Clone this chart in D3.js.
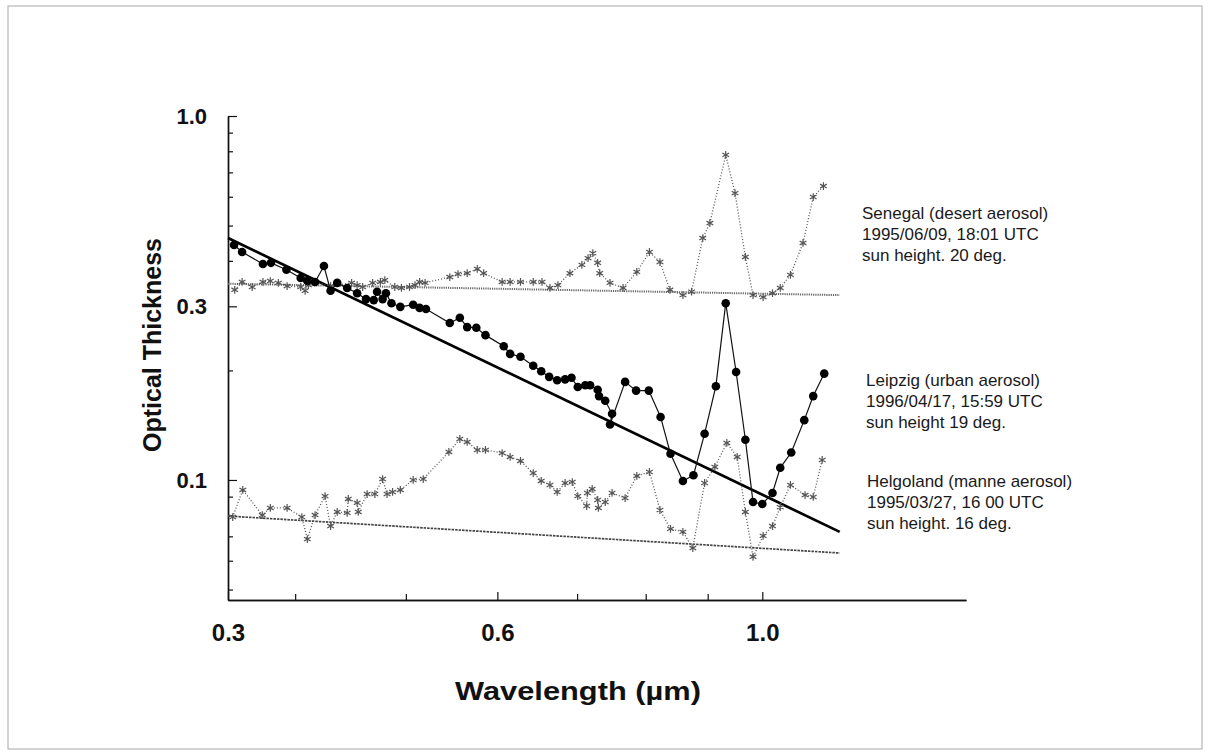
<!DOCTYPE html>
<html>
<head>
<meta charset="utf-8">
<script src="https://cdn.jsdelivr.net/npm/d3@7"></script>
<style>
  body { margin: 0; background: #fff; }
  svg { font-family: Arial, "Liberation Sans", sans-serif; }
</style>
</head>
<body>
<svg id="chart" width="1209" height="756"></svg>
<script>

/////// Data ///////

// Senegal, desert aerosol
var senegalWl  = [0.310, 0.321, 0.336, 0.352, 0.363, 0.375, 0.388, 0.405, 0.409, 0.412, 0.418, 0.432, 0.451, 0.456, 0.461, 0.470, 0.477, 0.481, 0.490, 0.496, 0.504, 0.510, 0.515, 0.521, 0.548, 0.557, 0.567, 0.578, 0.585, 0.606, 0.616, 0.629, 0.645, 0.656, 0.666, 0.676, 0.691, 0.707, 0.716, 0.723, 0.730, 0.733, 0.748, 0.767, 0.787, 0.806, 0.823, 0.839, 0.860, 0.874, 0.892, 0.904, 0.933, 0.950, 0.969, 0.983, 1.002, 1.025, 1.044, 1.069, 1.100, 1.125, 1.150];
var senegalTau = [0.333, 0.350, 0.339, 0.350, 0.352, 0.348, 0.341, 0.339, 0.331, 0.343, 0.350, 0.341, 0.348, 0.343, 0.339, 0.348, 0.350, 0.354, 0.339, 0.337, 0.339, 0.343, 0.350, 0.348, 0.361, 0.368, 0.370, 0.380, 0.370, 0.350, 0.350, 0.350, 0.350, 0.350, 0.337, 0.343, 0.370, 0.390, 0.407, 0.420, 0.395, 0.370, 0.348, 0.337, 0.373, 0.423, 0.397, 0.333, 0.322, 0.329, 0.462, 0.508, 0.782, 0.614, 0.410, 0.322, 0.318, 0.326, 0.337, 0.366, 0.448, 0.599, 0.642];

// Leipzig, urban aerosol
var leipzigWl  = [0.309, 0.321, 0.352, 0.364, 0.387, 0.405, 0.411, 0.418, 0.426, 0.432, 0.438, 0.447, 0.456, 0.464, 0.471, 0.474, 0.479, 0.482, 0.487, 0.495, 0.508, 0.515, 0.522, 0.548, 0.559, 0.567, 0.577, 0.587, 0.608, 0.616, 0.629, 0.645, 0.655, 0.665, 0.675, 0.685, 0.693, 0.701, 0.712, 0.719, 0.730, 0.732, 0.741, 0.751, 0.748, 0.770, 0.786, 0.805, 0.824, 0.840, 0.860, 0.877, 0.895, 0.915, 0.933, 0.952, 0.969, 0.983, 1.000, 1.025, 1.044, 1.071, 1.103, 1.125, 1.152];
var leipzigTau = [0.442, 0.423, 0.392, 0.395, 0.378, 0.359, 0.352, 0.350, 0.387, 0.331, 0.348, 0.337, 0.326, 0.314, 0.312, 0.329, 0.314, 0.326, 0.306, 0.299, 0.303, 0.297, 0.295, 0.270, 0.279, 0.263, 0.262, 0.250, 0.233, 0.222, 0.218, 0.206, 0.199, 0.192, 0.188, 0.189, 0.191, 0.180, 0.182, 0.182, 0.177, 0.170, 0.165, 0.152, 0.142, 0.186, 0.176, 0.176, 0.149, 0.118, 0.0994, 0.103, 0.134, 0.181, 0.306, 0.198, 0.129, 0.0870, 0.0859, 0.0921, 0.108, 0.119, 0.146, 0.170, 0.196];

// Helgoland, marine aerosol
var helgolandWl  = [0.307, 0.322, 0.351, 0.363, 0.388, 0.406, 0.411, 0.418, 0.427, 0.432, 0.438, 0.447, 0.448, 0.456, 0.457, 0.465, 0.472, 0.479, 0.483, 0.488, 0.495, 0.508, 0.519, 0.547, 0.559, 0.567, 0.578, 0.587, 0.606, 0.616, 0.629, 0.645, 0.655, 0.666, 0.675, 0.685, 0.694, 0.701, 0.714, 0.715, 0.722, 0.730, 0.731, 0.741, 0.751, 0.770, 0.787, 0.806, 0.823, 0.840, 0.860, 0.876, 0.895, 0.913, 0.935, 0.954, 0.969, 0.983, 1.002, 1.025, 1.044, 1.069, 1.105, 1.125, 1.147];
var helgolandTau = [0.0791, 0.0939, 0.0801, 0.0838, 0.0838, 0.0791, 0.0688, 0.0801, 0.0903, 0.0747, 0.0817, 0.0812, 0.0887, 0.0865, 0.0817, 0.0915, 0.0915, 0.1006, 0.0915, 0.0927, 0.0939, 0.100, 0.1006, 0.1194, 0.1296, 0.1272, 0.1209, 0.1209, 0.1186, 0.1157, 0.1128, 0.1045, 0.0994, 0.0969, 0.0927, 0.0981, 0.0987, 0.0903, 0.0848, 0.0921, 0.0945, 0.0881, 0.0838, 0.0870, 0.0921, 0.0892, 0.1026, 0.1052, 0.0827, 0.0734, 0.0720, 0.0650, 0.0981, 0.1086, 0.1264, 0.1157, 0.0817, 0.0615, 0.0702, 0.0747, 0.0842, 0.0969, 0.0909, 0.0898, 0.1135];

// fitted lines, [wavelength, tau] at both ends
var senegalFit   = [[0.30, 0.346], [1.19, 0.322]];
var leipzigFit   = [[0.30, 0.462], [1.19, 0.072]];
var helgolandFit = [[0.30, 0.0796], [1.19, 0.0630]];

// labels
var senegalLabel   = ["Senegal (desert aerosol)", "1995/06/09, 18:01 UTC", "sun height. 20 deg."];
var leipzigLabel   = ["Leipzig (urban aerosol)", "1996/04/17, 15:59 UTC", "sun height  19 deg."];
var helgolandLabel = ["Helgoland (manne aerosol)", "1995/03/27, 16 00 UTC", "sun height. 16 deg."];

// ticks
var xMajor = [0.3, 0.6, 1.0];
var xMinor = [0.4, 0.5, 0.7, 0.8, 0.9];
var yMajor = [1.0, 0.3, 0.1];
var yMinor = [0.9, 0.8, 0.7, 0.6, 0.5, 0.4, 0.2, 0.09, 0.08, 0.07, 0.06, 0.05];


/////// Chart setup ///////

var svg = d3.select("#chart"),
margin = {top: 116, right: 243, bottom: 156, left: 228},
width = +svg.attr("width") - margin.left - margin.right,
height = +svg.attr("height") - margin.top - margin.bottom;

// page frame
svg.append("rect")
    .attr("x", 8).attr("y", 6)
    .attr("width", 1194).attr("height", 743)
    .attr("fill", "none")
    .attr("stroke", "#a8a8a8")
    .attr("stroke-width", 1);

var g = svg.append("g")
    .attr("transform", "translate(" + margin.left + "," + margin.top + ")");

// the printed wavelength axis is uneven, so the scale is piecewise:
// stops are the tick values, positions are fractions of the axis length
var xStops = [0.3, 0.4, 0.5, 0.6, 0.7, 0.8, 0.9, 1.0, 1.5];
var xFrac  = [0, 0.091, 0.241, 0.365, 0.473, 0.566, 0.650, 0.724, 1];

var x = d3.scaleLinear()
    .domain(xStops)
    .range(xFrac.map(function(f) { return f * width; }));

var y = d3.scaleLog()
    .domain([0.0468, 1.0])
    .range([height, 0]);


/////// Axes ///////

var xAxis = d3.axisBottom(x)
    .tickValues(xMajor)
    .tickSize(-8)
    .tickSizeOuter(0)
    .tickPadding(24)
    .tickFormat(d3.format(".1f"));

var xAxisMinor = d3.axisBottom(x)
    .tickValues(xMinor)
    .tickSize(-6)
    .tickSizeOuter(0)
    .tickFormat("");

var yAxis = d3.axisLeft(y)
    .tickValues(yMajor)
    .tickSize(-9)
    .tickSizeOuter(0)
    .tickPadding(21)
    .tickFormat(d3.format(".1f"));

var yAxisMinor = d3.axisLeft(y)
    .tickValues(yMinor)
    .tickSize(-5)
    .tickSizeOuter(0)
    .tickFormat("");

g.append("g")
    .attr("class", "axis")
    .attr("transform", "translate(0," + height + ")")
    .call(xAxisMinor);

var gx = g.append("g")
    .attr("class", "axis")
    .attr("transform", "translate(0," + height + ")")
    .call(xAxis);

g.append("g")
    .attr("class", "axis")
    .call(yAxisMinor);

g.append("g")
    .attr("class", "axis")
    .call(yAxis);

g.selectAll(".axis path").attr("stroke", "#111").attr("stroke-width", 1.4);
g.selectAll(".axis line").attr("stroke", "#111").attr("stroke-width", 1.2);
g.selectAll(".axis text")
    .attr("font-size", "22px")
    .attr("font-weight", "bold")
    .attr("fill", "#111");
gx.selectAll("text").attr("font-size", "24px");

svg.append("text")
    .attr("transform", "translate(152," + (margin.top + 229) + ") rotate(-90)")
    .attr("text-anchor", "middle")
    .attr("dominant-baseline", "central")
    .attr("font-size", "25px")
    .attr("font-weight", "bold")
    .attr("fill", "#111")
    .text("Optical Thickness");

svg.append("text")
    .attr("x", 578)
    .attr("y", 700)
    .attr("text-anchor", "middle")
    .attr("font-size", "26px")
    .attr("font-weight", "bold")
    .attr("fill", "#111")
    .attr("textLength", 246)
    .attr("lengthAdjust", "spacingAndGlyphs")
    .text("Wavelength (\u00b5m)");


/////// Fit lines ///////

var fitLine = d3.line()
    .x(function(d) { return x(d[0]); })
    .y(function(d) { return y(d[1]); });

g.append("path")
    .datum(senegalFit)
    .attr("d", fitLine)
    .attr("fill", "none")
    .attr("stroke", "#666")
    .attr("stroke-width", 2)
    .attr("stroke-dasharray", "1.2,1");

g.append("path")
    .datum(helgolandFit)
    .attr("d", fitLine)
    .attr("fill", "none")
    .attr("stroke", "#444")
    .attr("stroke-width", 1.7)
    .attr("stroke-dasharray", "2.5,1");

g.append("path")
    .datum(leipzigFit)
    .attr("d", fitLine)
    .attr("fill", "none")
    .attr("stroke", "#000")
    .attr("stroke-width", 2.7);


/////// Measured series ///////

function zip(a, b) {
    return a.map(function(v, i) { return [v, b[i]]; });
}

var dataLine = d3.line()
    .x(function(d) { return x(d[0]); })
    .y(function(d) { return y(d[1]); });

function draw_open(data, cls) {
    g.append("path")
        .datum(data)
        .attr("class", cls)
        .attr("d", dataLine)
        .attr("fill", "none")
        .attr("stroke", "#555")
        .attr("stroke-width", 1.3)
        .attr("stroke-dasharray", "1,2");

    g.selectAll("." + cls + "-pt")
        .data(data)
        .enter().append("path")
        .attr("class", cls + "-pt")
        .attr("transform", function(d) { return "translate(" + x(d[0]) + "," + y(d[1]) + ")"; })
        .attr("d", d3.symbol(d3.symbolAsterisk, 42))
        .attr("fill", "none")
        .attr("stroke", "#555")
        .attr("stroke-width", 1.2);
}

draw_open(zip(senegalWl, senegalTau), "senegal");
draw_open(zip(helgolandWl, helgolandTau), "helgoland");

var leipzig = zip(leipzigWl, leipzigTau);

g.append("path")
    .datum(leipzig)
    .attr("d", dataLine)
    .attr("fill", "none")
    .attr("stroke", "#111")
    .attr("stroke-width", 1.2);

g.selectAll(".leipzig-pt")
    .data(leipzig)
    .enter().append("circle")
    .attr("class", "leipzig-pt")
    .attr("cx", function(d) { return x(d[0]); })
    .attr("cy", function(d) { return y(d[1]); })
    .attr("r", 4.3)
    .attr("fill", "#000");


/////// Labels ///////

function render_label(lines, left, top) {
    var t = svg.append("text")
        .attr("x", left)
        .attr("y", top)
        .attr("font-size", "17px")
        .attr("fill", "#1a1a1a");
    lines.forEach(function(s, i) {
        t.append("tspan")
            .attr("x", left)
            .attr("dy", i === 0 ? 0 : 21)
            .text(s);
    });
}

render_label(senegalLabel, 862, 219);
render_label(leipzigLabel, 866, 386);
render_label(helgolandLabel, 867, 487);

</script>
</body>
</html>
